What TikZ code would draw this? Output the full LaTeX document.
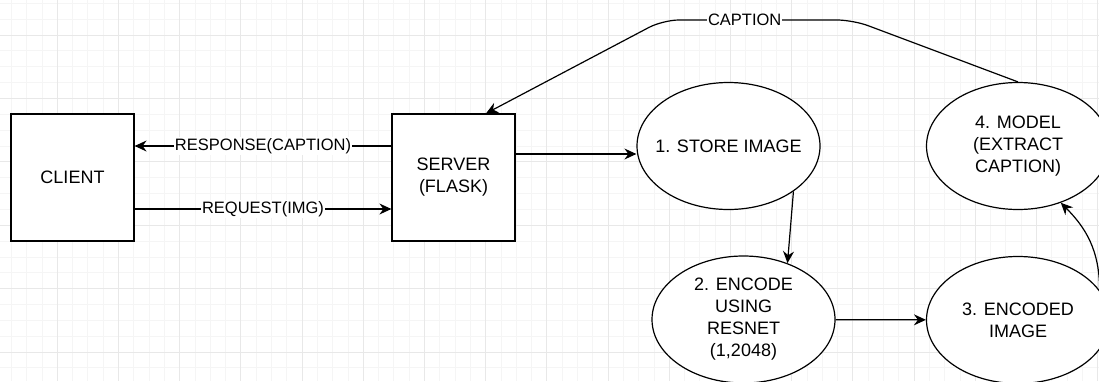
\documentclass[tikz,border=0pt]{standalone}
\usepackage{fontspec}
\setmainfont{Liberation Sans}
\usetikzlibrary{arrows.meta,shapes.geometric,positioning}

\tikzset{
  every node/.style={font=\fontsize{18}{22}\selectfont},
  block/.style={draw, line width=1.2pt, fill=white, minimum width=123pt, minimum height=127pt, inner sep=0pt, align=center},
  stage/.style={ellipse, draw, line width=1.2pt, fill=white, minimum width=183pt, minimum height=127pt, inner sep=-12pt, align=center},
  link/.style={line width=1.2pt, -{Stealth[length=12pt,width=11pt,inset=4pt]}},
  lbl/.style={fill=white, inner sep=1pt, sharp corners, font=\fontsize{16.5}{20}\selectfont},
  gridminor/.style={draw=black!4, line width=0.8pt},
  gridmajor/.style={draw=black!9, line width=1pt},
}

\begin{document}
\begin{tikzpicture}[x=1pt, y=-1pt]
  \clip (0,0) rectangle (1099,381);
  \fill[white] (0,0) rectangle (1099,381);
  % background grid
  \foreach \gx in {0,...,72} \draw[gridminor] ({-4+15.3*\gx},0) -- ++(0,381);
  \foreach \gy in {0,...,26} \draw[gridminor] (0,{-28.4+15.85*\gy}) -- ++(1099,0);
  \foreach \gx in {0,...,18} \draw[gridmajor] ({-4+61.2*\gx},0) -- ++(0,381);
  \foreach \gy in {0,...,6} \draw[gridmajor] (0,{-28.4+63.4*\gy}) -- ++(1099,0);

  \node[block] (client) at (72.5,177.5) {CLIENT};
  \node[block] (server) at (453.5,177.5) {SERVER\\(FLASK)};
  \node[stage] (store) at (728.5,146) {1. STORE IMAGE};
  \node[stage] (model) at (1018,146) {4. MODEL\\(EXTRACT\\CAPTION)};
  \node[stage] (encode) at (743.5,319.5) {2. ENCODE\\USING\\RESNET\\(1,2048)};
  \node[stage] (encoded) at (1018,320) {3. ENCODED\\IMAGE};

  \coordinate (capR) at (853,20);
  \coordinate (capL) at (663,20);
  \coordinate (capin) at ([xshift=32.5pt]server.north);

  \path[link]
  ([yshift=31.5pt]server.west) edge node[lbl] {RESPONSE(CAPTION)} ([yshift=31.5pt]server.west -| client.east)
  ([yshift=-31.5pt]client.east) edge node[lbl] {REQUEST(IMG)} ([yshift=-31.5pt]client.east -| server.west)
  ([yshift=23.5pt]server.east) edge ([yshift=23.5pt]server.east -| store.west)
  (store.-35) edge (encode.52)
  (encode) edge (encoded)
  ;
  \draw[link] (encoded.20) .. controls +(0,-40) and +(25,25) .. (model.-53);
  \draw[link, rounded corners=16pt] (model.north) -- (capR)
    -- node[lbl, pos=0.57] {CAPTION} (capL) -- (capin);
\end{tikzpicture}
\end{document}
